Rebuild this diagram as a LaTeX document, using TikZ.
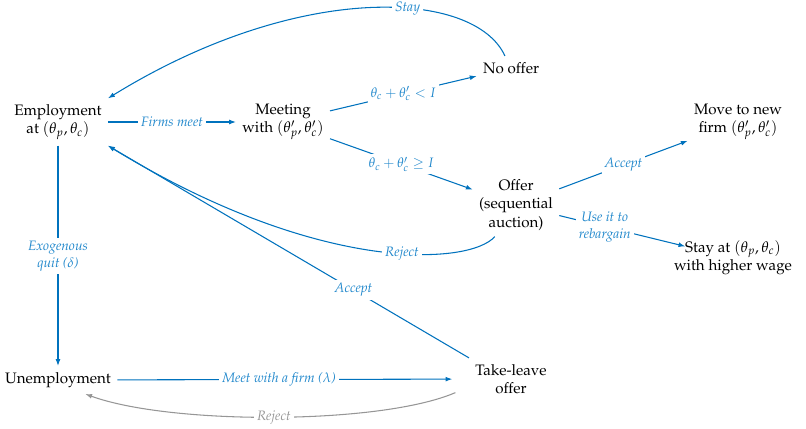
\documentclass[tikz,border=0pt]{standalone}
\usepackage[T1]{fontenc}
\usepackage{mathpazo}
\usepackage{amsmath,amssymb}
\usetikzlibrary{arrows.meta}

\definecolor{flowblue}{RGB}{0,114,189}
\definecolor{labelblue}{RGB}{33,136,204}
\definecolor{rejectgray}{RGB}{150,150,150}

\begin{document}
\begin{tikzpicture}[
		x=0.0232cm,y=0.0232cm,
		>={Latex[length=4.5pt,width=3.2pt]},
		every node/.style={font=\normalsize},
		state/.style={align=center, inner sep=4pt},
		flow/.style={->, flowblue, line width=0.7pt},
		lbl/.style={fill=white, inner sep=2pt, text=labelblue, font=\small\itshape, align=center}
		]
		\useasboundingbox (0,0) rectangle (806,-429);
		
		% =========================
		% States
		% =========================
		\node[state] (emp) at (58,-122) {Employment\\at $(\theta_p,\theta_c)$};
		\node[state] (meet) at (283,-122) {Meeting\\with $(\theta'_p,\theta'_c)$};
		\node[state] (nooffer) at (511,-68) {No offer};
		\node[state] (offer) at (516,-205) {Offer\\(sequential\\auction)};
		\node[state] (move) at (738,-122) {Move to new\\firm $(\theta'_p,\theta'_c)$};
		\node[state] (stay) at (733,-258) {Stay at $(\theta_p,\theta_c)$\\with higher wage};
		\node[state] (unemp) at (58,-380) {Unemployment};
		\node[state] (take) at (511,-379) {Take-leave\\offer};
		
		% =========================
		% Job-to-job transitions
		% =========================
		\draw[flow] (emp) -- node[lbl] {Firms meet} (meet);
		\draw[flow] (meet) -- node[lbl] {$\theta_c+\theta'_c<I$} (nooffer);
		\draw[flow] (meet) -- node[lbl] {$\theta_c+\theta'_c\geq I$} (offer);
		\draw[flow] (offer) -- node[lbl] {Accept} (move);
		\draw[flow, shorten >=-12pt] (offer) -- node[lbl, pos=0.42] {Use it to\\rebargain} (stay);
		
		% back to current employment
		\draw[flow] ([xshift=-4pt]nooffer.north) .. controls (475,10) and (300,20) .. node[lbl, pos=0.4] {Stay} (emp.north east);
		\draw[flow] ([xshift=-14pt]offer.south) .. controls (470,-265) and (320,-275) .. node[lbl, pos=0.42] {Reject} (emp.south east);
		\draw[flow] (take.north west) -- node[lbl, pos=0.32] {Accept} (emp.south east);
		
		% =========================
		% Unemployment
		% =========================
		\draw[flow] (emp) -- node[lbl] {Exogenous\\quit ($\delta$)} (unemp);
		\draw[flow, shorten >=11pt] (unemp) -- node[lbl, pos=0.46] {Meet with a firm ($\lambda$)} (take);
		\draw[->, rejectgray, line width=0.7pt] ([xshift=-9pt,yshift=-9pt]take.west) .. controls (380,-425) and (170,-425) .. node[lbl, text=rejectgray] {Reject} ([xshift=18pt]unemp.south);
		
	\end{tikzpicture}
\end{document}
